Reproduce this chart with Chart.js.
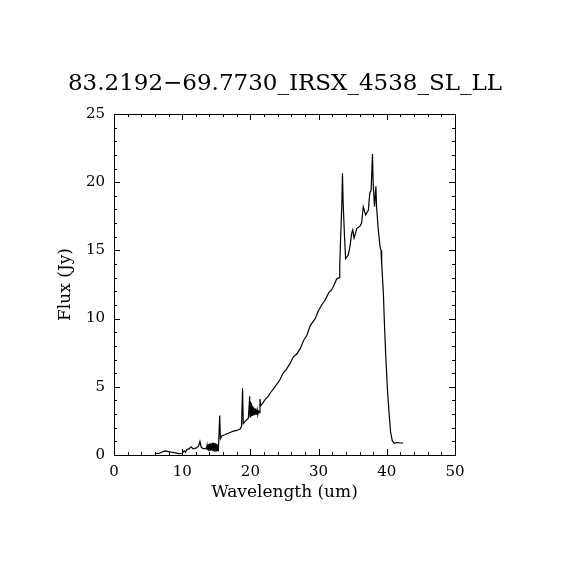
<!DOCTYPE html>
<html>
<head>
<meta charset="utf-8">
<script src="https://cdn.jsdelivr.net/npm/chart.js@4.4.1/dist/chart.umd.min.js"></script>
<style>
  html, body { margin: 0; padding: 0; background: #fff; }
  #wrap { width: 570px; height: 570px; }
</style>
</head>
<body>
<div id="wrap"><canvas id="spec" width="570" height="570"></canvas></div>
<script>
// spectrum (wavelength in um, flux in Jy)
const wavelength = [
  6.0, 6.5, 7.0, 7.5, 8.0, 8.5, 9.0, 9.5, 10.0, 10.3, 10.5, 10.7, 11.0, 11.3, 11.6,
  12.0, 12.4, 12.6, 12.8, 13.2,
  13.5, 13.55, 13.6, 13.65, 13.7, 13.75, 13.8, 13.85, 13.9, 13.95, 14.0, 14.05, 14.1,
  14.15, 14.2, 14.25, 14.3, 14.35, 14.4, 14.45, 14.5, 14.55, 14.6, 14.65, 14.7, 14.75,
  14.8, 14.85, 14.9, 14.95, 15.0, 15.05, 15.1, 15.15, 15.2, 15.25, 15.3,
  15.5, 15.6, 15.8, 16.3, 17.0, 17.5, 18.0, 18.5, 18.7, 18.85,
  18.95, 19.3, 19.7, 19.9, 19.95, 20.0, 20.05, 20.1, 20.15, 20.2, 20.25, 20.3, 20.35,
  20.4, 20.45, 20.5, 20.55, 20.6, 20.65, 20.7, 20.75, 20.8, 20.85, 20.9, 20.95, 21.0,
  21.1, 21.2, 21.3, 21.4,
  21.5, 21.8, 22.2, 22.6, 23.0, 23.6, 24.3, 24.8, 25.3, 25.8, 26.3, 26.8, 27.3, 27.8,
  28.3, 28.7, 29.0, 29.5, 29.9, 30.45, 31.0, 31.5, 31.9, 32.3, 32.65, 33.0, 33.1, 33.2,
  33.4, 33.5, 33.6, 33.8, 33.96, 34.35, 34.6, 34.85, 35.0, 35.2, 35.6, 36.1, 36.3, 36.55,
  36.9, 37.3, 37.5, 37.7, 37.9, 38.0, 38.2, 38.4, 38.5, 38.75, 39.0, 39.15, 39.25, 39.5,
  39.65, 39.85, 40.1, 40.3, 40.55, 40.8, 41.1, 41.5, 41.9, 42.4
];
const flux = [
  0.15, 0.1, 0.2, 0.3, 0.25, 0.2, 0.15, 0.1, 0.12, 0.3, 0.2, 0.4, 0.45, 0.6, 0.45,
  0.5, 0.65, 1.0, 0.55, 0.45,
  0.5, 0.55, 0.45, 0.7, 0.4, 0.75, 0.4, 0.8, 0.35, 0.8, 0.4, 0.85, 0.35,
  0.85, 0.4, 0.85, 0.35, 0.85, 0.4, 0.9, 0.35, 0.85, 0.3, 0.9, 0.35, 0.85,
  0.3, 0.85, 0.35, 0.8, 0.3, 0.8, 0.3, 0.75, 0.3, 0.7, 0.25,
  2.9, 1.2, 1.4, 1.5, 1.65, 1.75, 1.8, 1.9, 2.1, 4.9,
  2.3, 2.5, 2.7, 4.3, 2.8, 3.9, 2.8, 3.8, 2.85, 3.7, 2.9, 3.6, 2.9,
  3.5, 2.95, 3.5, 2.95, 3.4, 3.0, 3.4, 3.0, 3.35, 3.0, 3.3, 3.0, 3.3,
  3.0, 3.2, 3.1, 4.1,
  3.6, 3.8, 4.1, 4.3, 4.6, 5.0, 5.5, 6.0, 6.3, 6.7, 7.2, 7.4, 7.8, 8.4,
  8.8, 9.4, 9.65, 10.0, 10.5, 11.0, 11.4, 11.9, 12.1, 12.5, 12.9, 13.0, 13.8, 15.5,
  18.3, 20.65, 18.5, 16.0, 14.4, 14.66, 15.3, 16.25, 16.5, 15.9, 16.6, 16.8, 17.0, 18.2,
  17.6, 17.96, 19.2, 19.4, 22.07, 19.9, 18.2, 19.7, 18.2, 16.5, 15.3, 15.0, 14.05, 11.85,
  9.65, 7.2, 4.77, 3.3, 1.7, 1.05, 0.86, 0.93, 0.88, 0.88
];

const plotTitle = '83.2192\u221269.7730_IRSX_4538_SL_LL';
const xMajor = [0, 10, 20, 30, 40, 50];
const yMajor = [0, 5, 10, 15, 20, 25];
const xMinorStep = 2;
const yMinorStep = 1;

const serif = "'DejaVu Serif', 'Liberation Serif', serif";

// IDL style: frame with inward ticks on every side, title centred on the page
const frameTicks = {
  id: 'frameTicks',
  afterDatasetsDraw(chart) {
    const ctx = chart.ctx;
    const a = chart.chartArea;
    const xs = chart.scales.x, ys = chart.scales.y;
    ctx.save();
    ctx.strokeStyle = '#000';
    ctx.lineWidth = 1;
    ctx.strokeRect(a.left + 0.5, a.top + 0.5, a.right - a.left, a.bottom - a.top);
    ctx.beginPath();
    for (let v = xs.min; v <= xs.max; v += xMinorStep) {
      const len = xMajor.includes(v) ? 6 : 3;
      const px = Math.round(xs.getPixelForValue(v)) + 0.5;
      ctx.moveTo(px, a.bottom); ctx.lineTo(px, a.bottom - len);
      ctx.moveTo(px, a.top); ctx.lineTo(px, a.top + len);
    }
    for (let v = ys.min; v <= ys.max; v += yMinorStep) {
      const len = yMajor.includes(v) ? 6 : 3;
      const py = Math.round(ys.getPixelForValue(v)) + 0.5;
      ctx.moveTo(a.left, py); ctx.lineTo(a.left + len, py);
      ctx.moveTo(a.right, py); ctx.lineTo(a.right - len, py);
    }
    ctx.stroke();

    ctx.fillStyle = '#000';
    ctx.font = '23px ' + serif;
    ctx.textAlign = 'center';
    ctx.textBaseline = 'middle';
    ctx.fillText(plotTitle, chart.width / 2, 84);
    ctx.restore();
  }
};

new Chart(document.getElementById('spec'), {
  type: 'scatter',
  data: {
    datasets: [{
      data: wavelength.map((w, i) => ({ x: w, y: flux[i] })),
      showLine: true,
      borderColor: '#000',
      borderWidth: 1.2,
      pointRadius: 0,
      tension: 0
    }]
  },
  options: {
    responsive: false,
    animation: false,
    layout: { padding: { top: 114, right: 115, bottom: 67, left: 55 } },
    plugins: {
      legend: { display: false },
      tooltip: { enabled: false },
      title: { display: false }
    },
    scales: {
      x: {
        type: 'linear',
        min: 0, max: 50,
        afterBuildTicks(s) { s.ticks = xMajor.map(v => ({ value: v })); },
        afterFit(s) { s.height = 48; },
        grid: { display: false, drawTicks: false },
        border: { display: false },
        ticks: { color: '#000', padding: 8, maxRotation: 0, font: { family: serif, size: 15 } },
        title: {
          display: true, text: 'Wavelength (um)', color: '#000',
          font: { family: serif, size: 17 }, padding: { top: 0, bottom: 0 }
        }
      },
      y: {
        type: 'linear',
        min: 0, max: 25,
        afterBuildTicks(s) { s.ticks = yMajor.map(v => ({ value: v })); },
        afterFit(s) { s.width = 59; },
        grid: { display: false, drawTicks: false },
        border: { display: false },
        ticks: { color: '#000', padding: 9, font: { family: serif, size: 15 } },
        title: {
          display: true, text: 'Flux (Jy)', color: '#000',
          font: { family: serif, size: 17 }, padding: { top: 0, bottom: 0 }
        }
      }
    }
  },
  plugins: [frameTicks]
});
</script>
</body>
</html>
